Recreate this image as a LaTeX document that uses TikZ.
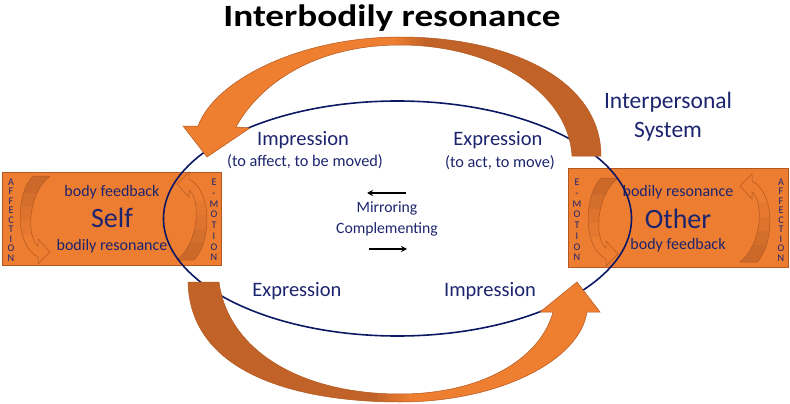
\documentclass[tikz,border=0pt]{standalone}
\usepackage{graphicx}
\usepackage{fontspec}
\setmainfont{Carlito}
\usetikzlibrary{arrows.meta,shapes.geometric}
\definecolor{boxor}{RGB}{237,125,49}
\definecolor{lightor}{RGB}{238,126,48}
\definecolor{darkor}{RGB}{193,99,40}
\definecolor{edgeor}{RGB}{178,88,32}
\definecolor{navy}{RGB}{28,36,110}
\definecolor{ellnavy}{RGB}{12,24,100}
\tikzset{
  box/.style={draw=edgeor, line width=0.6pt, fill=boxor, inner sep=0pt},
  lbl/.style={text=navy, inner sep=0pt},
  vlet/.style={text=navy, inner sep=0pt, align=center, font=\fontsize{10.2}{#1}\selectfont},
  carrow/.pic={
    \begin{scope}
      \clip (14,-39) .. controls (-8,-22) and (-10,22) .. (2,31) -- (2,24) -- (14,37) -- (2,49) -- (2,42) .. controls (-22,30) and (-20,-22) .. (-3,-39) -- cycle;
      \fill[darkor, opacity=0.75] (-30,-45) rectangle (30,-22);
      \fill[darkor, opacity=0.55] (-30,-22) rectangle (30,-8);
      \fill[darkor, opacity=0.35] (-30,-8) rectangle (30,6);
      \fill[darkor, opacity=0.15] (-30,6) rectangle (30,20);
    \end{scope}
    \draw[edgeor, line width=0.5pt] (14,-39) .. controls (-8,-22) and (-10,22) .. (2,31) -- (2,24) -- (14,37) -- (2,49) -- (2,42) .. controls (-22,30) and (-20,-22) .. (-3,-39) -- cycle;
  }
}
\begin{document}
\begin{tikzpicture}[x=1pt,y=-1pt]
\useasboundingbox (0,0) rectangle (790,404);

% title
\node[font=\fontsize{31}{36}\selectfont\bfseries, inner sep=0pt, anchor=base] (title) at (392,27) {\scalebox{1.2}[1]{Interbodily resonance}};

% boxes
\node[box, minimum width=219pt, minimum height=93pt] (self) at (111.5,218.5) {};
\node[box, minimum width=220pt, minimum height=99pt] (other) at (678,217.5) {};

% inner curved arrows
\pic at (36,215) {carrow};
\pic[rotate=180] at (191,221) {carrow};
\pic at (604,217) {carrow};
\pic[rotate=180] at (754,223) {carrow};

% box texts
\node[lbl, font=\fontsize{16}{19}\selectfont] (selfbf) at (112,192) {body feedback};
\node[lbl, font=\fontsize{28}{34}\selectfont] (selft) at (112,218) {Self};
\node[lbl, font=\fontsize{16}{19}\selectfont] (selfbr) at (112,246) {bodily resonance};
\node[lbl, font=\fontsize{16}{19}\selectfont] (othbr) at (678,192) {bodily resonance};
\node[lbl, font=\fontsize{28}{34}\selectfont] (otht) at (678,219) {Other};
\node[lbl, font=\fontsize{16}{19}\selectfont] (othbf) at (678,245) {body feedback};

\node[vlet=9.5] (saff) at (11,220) {A\\F\\F\\E\\C\\T\\I\\O\\N};
\node[vlet=10.7] (semo) at (214,220) {E\\-\\M\\O\\T\\I\\O\\N};
\node[vlet=10.7] (oemo) at (577,220) {E\\-\\M\\O\\T\\I\\O\\N};
\node[vlet=9.5] (oaff) at (781,220) {A\\F\\F\\E\\C\\T\\I\\O\\N};

% interpersonal system ellipse
\node[ellipse, draw=ellnavy, line width=1.6pt, minimum width=468pt, minimum height=235pt, inner sep=0pt] (sys) at (397.5,218.5) {};

% top big arrow
\begin{scope}
  \clip (601,156) .. controls (601,80) and (510,37) .. (400,37) .. controls (300,37) and (215,80) .. (198,126) -- (183,126) -- (207,157) -- (250,128) -- (236,127) .. controls (262,80) and (320,45) .. (400,45) .. controls (490,45) and (568,90) .. (572,156) -- cycle;
  \fill[lightor] (150,0) rectangle (395,404);
  \shade[left color=lightor, right color=darkor] (394,0) rectangle (425,404);
  \fill[darkor] (424,0) rectangle (700,404);
\end{scope}
\draw[edgeor, line width=0.5pt] (601,156) .. controls (601,80) and (510,37) .. (400,37) .. controls (300,37) and (215,80) .. (198,126) -- (183,126) -- (207,157) -- (250,128) -- (236,127) .. controls (262,80) and (320,45) .. (400,45) .. controls (490,45) and (568,90) .. (572,156) -- cycle;

% bottom big arrow
\begin{scope}
  \clip (188,282) .. controls (190,375) and (300,402) .. (400,402) .. controls (500,402) and (580,360) .. (587,312) -- (600,312) -- (577,282) -- (540,312) -- (553,312) .. controls (540,360) and (480,394) .. (400,394) .. controls (300,394) and (228,350) .. (219,282) -- cycle;
  \fill[darkor] (150,250) rectangle (375,404);
  \shade[left color=darkor, right color=lightor] (374,250) rectangle (410,404);
  \fill[lightor] (409,250) rectangle (700,404);
\end{scope}
\draw[edgeor, line width=0.5pt] (188,282) .. controls (190,375) and (300,402) .. (400,402) .. controls (500,402) and (580,360) .. (587,312) -- (600,312) -- (577,282) -- (540,312) -- (553,312) .. controls (540,360) and (480,394) .. (400,394) .. controls (300,394) and (228,350) .. (219,282) -- cycle;

% labels inside system
\node[lbl, font=\fontsize{20.5}{24}\selectfont] (imp1) at (303,140) {Impression};
\node[lbl, font=\fontsize{16.3}{19}\selectfont] (imp1s) at (305,162) {(to affect, to be moved)};
\node[lbl, font=\fontsize{20.5}{24}\selectfont] (exp1) at (498,140) {Expression};
\node[lbl, font=\fontsize{16.3}{19}\selectfont] (exp1s) at (500,163) {(to act, to move)};
\node[lbl, font=\fontsize{20.5}{24}\selectfont] (exp2) at (297,291) {Expression};
\node[lbl, font=\fontsize{20.5}{24}\selectfont] (imp2) at (490,291) {Impression};
\node[lbl, font=\fontsize{23.5}{29}\selectfont, align=center] (isys) at (668,117) {Interpersonal\\System};

\node[lbl, font=\fontsize{15.7}{18}\selectfont] (mir) at (387,208) {Mirroring};
\node[lbl, font=\fontsize{15.7}{18}\selectfont] (comp) at (387,229) {Complementing};
\coordinate (ma) at (406,193);
\coordinate (mb) at (367,193);
\coordinate (mc) at (369,249);
\coordinate (md) at (407,249);
\draw[line width=1.5pt, -{Stealth[length=6pt,width=6pt]}] (ma) -- (mb);
\draw[line width=1.5pt, -{Stealth[length=6pt,width=6pt]}] (mc) -- (md);
\end{tikzpicture}
\end{document}
